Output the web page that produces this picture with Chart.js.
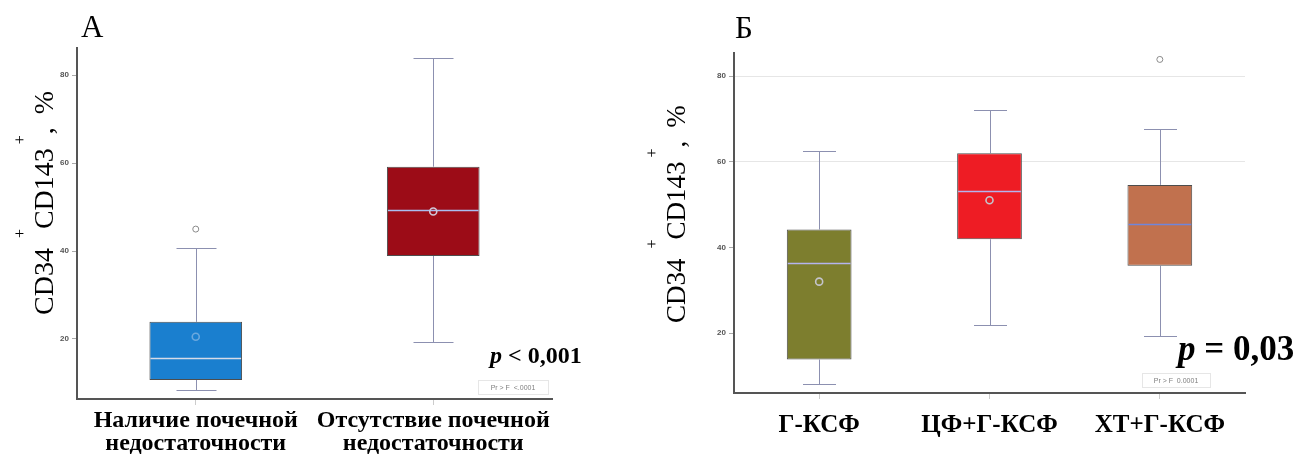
<!DOCTYPE html>
<html><head><meta charset="utf-8">
<script src="https://cdn.jsdelivr.net/npm/chart.js@4.4.0/dist/chart.umd.min.js"></script>
<style>
html,body{margin:0;padding:0;background:#fff;}
#wrap{position:relative;width:1300px;height:460px;overflow:hidden;background:#fff;}
#cA{position:absolute;left:0;top:0;}
#cB{position:absolute;left:640px;top:0;}
</style></head><body>
<div id="wrap"><canvas id="cA" width="640" height="460"></canvas><canvas id="cB" width="660" height="460"></canvas></div>
<script>
// ---- Panel A data ----
const categoriesA = [["Наличие почечной","недостаточности"],["Отсутствие почечной","недостаточности"]];
const minA      = [8.3, 19.3];
const q1A       = [10.7, 38.9];
const medianA   = [15.6, 49.3];
const q3A       = [23.9, 59.2];
const maxA      = [40.8, 84.0];
const meanA     = [20.5, 49.0];
const outliersA = [[45.0], []];
// ---- Panel B data ----
const categoriesB = ["Г-КСФ","ЦФ+Г-КСФ","ХТ+Г-КСФ"];
const minB      = [8.2, 21.9, 19.2];
const q1B       = [13.8, 41.9, 35.7];
const medianB   = [36.3, 53.2, 45.4];
const q3B       = [44.2, 62.0, 54.6];
const maxB      = [62.6, 72.2, 67.6];
const meanB     = [32.0, 51.0, null];
const outliersB = [[], [], [83.9]];
const yTicks = [20, 40, 60, 80];

function makeBoxPlugin(st){
  return {
    id:'boxplot',
    beforeDatasetsDraw(chart){
      const ctx=chart.ctx, y=chart.scales.y;
      const meta=chart.getDatasetMeta(0);
      ctx.save();
      ctx.strokeStyle=st.whiskerColor; ctx.lineWidth=1;
      meta.data.forEach((bar,i)=>{
        const cx=Math.round(bar.x)+0.5, h=st.capWidth/2;
        const yMin=Math.round(y.getPixelForValue(st.min[i]))+0.5;
        const yMax=Math.round(y.getPixelForValue(st.max[i]))+0.5;
        const yQ1=y.getPixelForValue(st.q1[i]), yQ3=y.getPixelForValue(st.q3[i]);
        ctx.beginPath();
        ctx.moveTo(cx,yQ3); ctx.lineTo(cx,yMax);
        ctx.moveTo(cx-h,yMax); ctx.lineTo(cx+h,yMax);
        ctx.moveTo(cx,yQ1); ctx.lineTo(cx,yMin);
        ctx.moveTo(cx-h,yMin); ctx.lineTo(cx+h,yMin);
        ctx.stroke();
      });
      ctx.restore();
    },
    afterDatasetsDraw(chart){
      const ctx=chart.ctx, y=chart.scales.y;
      const meta=chart.getDatasetMeta(0);
      ctx.save();
      meta.data.forEach((bar,i)=>{
        const cx=bar.x, hw=bar.width/2;
        const ym=Math.round(y.getPixelForValue(st.median[i]))+0.5;
        ctx.strokeStyle=st.medianColors[i]; ctx.lineWidth=1.5;
        ctx.beginPath(); ctx.moveTo(cx-hw+1,ym); ctx.lineTo(cx+hw-1,ym); ctx.stroke();
        if(st.mean[i]!=null){
          ctx.strokeStyle=st.meanColors[i]; ctx.lineWidth=1.6;
          ctx.beginPath(); ctx.arc(cx,y.getPixelForValue(st.mean[i]),3.5,0,Math.PI*2); ctx.stroke();
        }
        st.outliers[i].forEach(v=>{
          ctx.strokeStyle='#8a8a8a'; ctx.lineWidth=1;
          ctx.beginPath(); ctx.arc(cx,y.getPixelForValue(v),3,0,Math.PI*2); ctx.stroke();
        });
      });
      ctx.restore();
    }
  };
}

function drawYTitle(ctx,x,y,size){
  // pre = gap before the piece (px)
  const pieces=[{t:'CD34',pre:0},{t:'+',sup:true,pre:10},{t:'CD143',pre:0},{t:'+',sup:true,pre:4},{t:',',pre:1},{t:'%',pre:13}];
  ctx.save(); ctx.translate(x,y); ctx.rotate(-Math.PI/2);
  ctx.fillStyle='#000'; ctx.textBaseline='alphabetic'; ctx.textAlign='left';
  let pos=0;
  pieces.forEach(p=>{
    ctx.font=p.sup?'16px "Liberation Serif"':size+'px "Liberation Serif"';
    pos+=p.pre;
    ctx.fillText(p.t,pos,p.sup?-28:0);
    pos+=ctx.measureText(p.t).width;
  });
  ctx.restore();
}
function drawP(ctx,x,y,size,rest){
  ctx.save(); ctx.fillStyle='#000'; ctx.textBaseline='alphabetic';
  ctx.font='italic bold '+size+'px "Liberation Serif"';
  ctx.fillText('p',x,y);
  const w=ctx.measureText('p').width;
  ctx.font='bold '+size+'px "Liberation Serif"';
  ctx.fillText(rest,x+w,y);
  ctx.restore();
}
function drawPr(ctx,x0,y0,w,h,txt){
  ctx.save();
  ctx.strokeStyle='#e6e6e6'; ctx.lineWidth=1; ctx.strokeRect(x0+0.5,y0+0.5,w,h);
  ctx.fillStyle='#808080'; ctx.font='7px "Liberation Sans"'; ctx.textAlign='center'; ctx.textBaseline='middle';
  ctx.fillText(txt,x0+w/2,y0+h/2+1);
  ctx.restore();
}

function makeChart(id,cfg){
  const textPlugin={id:'texts',afterDraw(chart){cfg.drawTexts(chart.ctx);}};
  return new Chart(document.getElementById(id),{
    type:'bar',
    data:{labels:cfg.labels,datasets:[{
      data:cfg.q1.map((v,i)=>[v,cfg.q3[i]]),
      backgroundColor:cfg.colors,borderColor:'#4d4d4d',borderWidth:1,borderSkipped:false,
      barPercentage:cfg.barPct,categoryPercentage:1
    }]},
    options:{
      responsive:false,animation:false,devicePixelRatio:1,
      layout:{padding:cfg.padding},
      plugins:{legend:{display:false},tooltip:{enabled:false}},
      scales:{
        x:{
          afterFit(s){s.height=cfg.xHeight;},
          grid:{display:true,drawOnChartArea:false,offset:false,tickLength:6,tickColor:'#cccccc'},
          border:{display:true,color:'#555555',width:2},
          ticks:{font:{family:'Liberation Serif',size:cfg.xFont,weight:'bold',lineHeight:cfg.xLH},color:'#000',padding:cfg.xPad,maxRotation:0,autoSkip:false}
        },
        y:{
          min:cfg.yMin,max:cfg.yMax,
          afterFit(s){s.width=cfg.yWidth;},
          afterBuildTicks(s){s.ticks=yTicks.map(v=>({value:v}));},
          grid:{display:true,drawOnChartArea:cfg.grid,tickLength:5,tickColor:'#aaaaaa',
                color:(c)=>(c.tick&&(c.tick.value===60||c.tick.value===80))?'#e6e6e6':'rgba(0,0,0,0)'},
          border:{display:true,color:'#555555',width:2},
          ticks:{font:{family:'Liberation Sans',size:8,weight:'bold'},color:'#555',padding:3}
        }
      }
    },
    plugins:[makeBoxPlugin(cfg.stats),textPlugin]
  });
}

makeChart('cA',{
  labels:categoriesA,q1:q1A,q3:q3A,colors:['#1a7fcf','#9c0c17'],barPct:0.39,
  padding:{top:48,right:88,bottom:0,left:0},xHeight:61,yWidth:77,yMin:6.35,yMax:86.2,xFont:24,xLH:0.96,xPad:4,grid:false,
  stats:{min:minA,q1:q1A,median:medianA,q3:q3A,max:maxA,mean:meanA,outliers:outliersA,capWidth:40,
    whiskerColor:'#8c90b0',medianColors:['#d6dbe8','#a9bdf0'],meanColors:['#6aa8de','#d0c8d8']},
  drawTexts(ctx){
    ctx.save(); ctx.fillStyle='#000'; ctx.font='31px "Liberation Serif"'; ctx.fillText('A',81,37); ctx.restore();
    drawYTitle(ctx,53,315,28);
    drawP(ctx,490,363,24,' < 0,001');
    drawPr(ctx,478,380,70,14,'Pr > F  <.0001');
  }
});
makeChart('cB',{
  labels:categoriesB,q1:q1B,q3:q3B,colors:['#7d7e2e','#ee1c24','#c1714e'],barPct:0.38,
  padding:{top:53,right:55,bottom:0,left:0},xHeight:67,yWidth:94,yMin:6.0,yMax:85.4,xFont:25,xLH:1.08,xPad:13,grid:true,
  stats:{min:minB,q1:q1B,median:medianB,q3:q3B,max:maxB,mean:meanB,outliers:outliersB,capWidth:33,
    whiskerColor:'#8c90b0',medianColors:['#b4b4ee','#b4b4ee','#6f86dc'],meanColors:['#c4c4cc','#c4c4cc','#c4c4cc']},
  drawTexts(ctx){
    ctx.save(); ctx.fillStyle='#000'; ctx.font='31px "Liberation Serif"'; ctx.fillText('Б',95,38); ctx.restore();
    drawYTitle(ctx,45,323,27);
    drawP(ctx,538,360,35,' = 0,03');
    drawPr(ctx,502,373,68,14,'Pr > F  0.0001');
  }
});
</script></body></html>
